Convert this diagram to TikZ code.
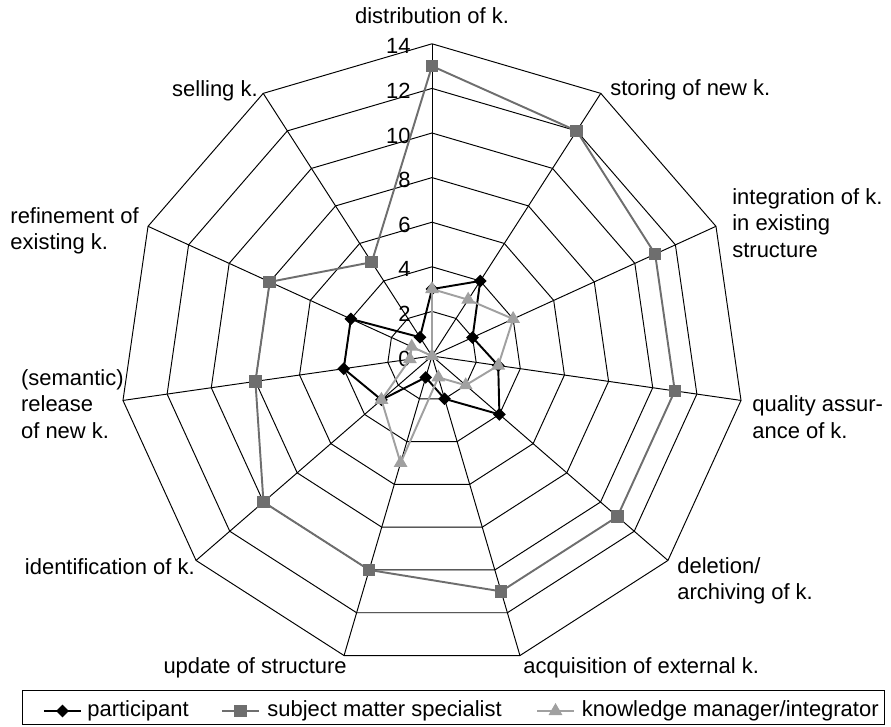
\documentclass[tikz,border=0pt]{standalone}
\usepackage{fontspec}
\setmainfont{Liberation Sans}
\usetikzlibrary{shapes.geometric, positioning}

\definecolor{smsgray}{RGB}{110,110,110}
\definecolor{kmgray}{RGB}{160,160,160}

\tikzset{
  webline/.style={black, line width=0.55pt},
  ptline/.style={black, line width=1.1pt},
  smsline/.style={smsgray, line width=1.1pt},
  kmline/.style={kmgray, line width=1.1pt},
  ptmark/.style={diamond, fill=black, inner sep=0pt, minimum width=0.26cm, minimum height=0.26cm},
  smsmark/.style={rectangle, fill=smsgray, inner sep=0pt, minimum size=0.25cm},
  kmmark/.style={regular polygon, regular polygon sides=3, fill=kmgray, inner sep=0pt, minimum size=0.32cm},
  axlabel/.style={inner sep=0pt, align=left, font=\fontsize{12.5}{15.1}\selectfont},
  legtext/.style={inner sep=0pt, font=\fontsize{12.5}{15}\selectfont}
}

\begin{document}
\begin{tikzpicture}[x=0.02cm, y=0.02cm]
    \useasboundingbox (-432,-370) rectangle (459,356);
    \coordinate (c) at (0,0);
    % web of rings and spokes
    \foreach \k in {0,...,10}
        \coordinate (ax\k) at ({90-\k*360/11}:312.2);
    \foreach \r in {2,4,...,14}
        \draw[webline] (90:{\r*22.3}) \foreach \k in {1,...,10} { -- ({90-\k*360/11}:{\r*22.3}) } -- cycle;
    \foreach \k in {0,...,10}
        \draw[webline] (c) -- (ax\k);
    % scale values
    \foreach \v in {0,2,...,14}
        \node[axlabel, anchor=east] (val\v) at (-21,{\v*22.3-2.5}) {\v};

    % axis labels
    \node[axlabel] (lab0) at (0,340) {distribution of k.};
    \node[axlabel, anchor=west] (lab1) at (178,266) {storing of new k.};
    \node[axlabel, anchor=west] (lab2) at (300,133) {integration of k.\\in existing\\structure};
    \node[axlabel, anchor=west] (lab3) at (320,-61) {quality assur-\\ance of k.};
    \node[axlabel, anchor=west] (lab4) at (245,-225) {deletion/\\archiving of k.};
    \node[axlabel, anchor=west] (lab5) at (91,-312) {acquisition of external k.};
    \node[axlabel, anchor=east] (lab6) at (-85,-312) {update of structure};
    \node[axlabel, anchor=east] (lab7) at (-237,-211) {identification of k.};
    \node[axlabel, anchor=east] (lab8) at (-308,-48) {(semantic)\\release\\of new k.};
    \node[axlabel, anchor=east] (lab9) at (-293,125) {refinement of\\existing k.};
    \node[axlabel, anchor=east] (lab10) at (-174,265) {selling k.};

    % participant
    \foreach \v [count=\k from 0] in {3,4,2,3,4,2,1,3,4,4,1}
        \coordinate (pt\k) at ({90-\k*360/11}:{\v*22.3});
    \draw[ptline] (pt0) \foreach \k in {1,...,10} { -- (pt\k) } -- cycle;
    \foreach \k in {0,...,10}
        \node[ptmark] (ptm\k) at (pt\k) {};

    % subject matter specialist
    \foreach \v [count=\k from 0] in {13,12,11,11,11,11,10,10,8,8,5}
        \coordinate (sm\k) at ({90-\k*360/11}:{\v*22.3});
    \draw[smsline] (sm0) \foreach \k in {1,...,10} { -- (sm\k) } -- cycle;
    \foreach \k in {0,...,10}
        \node[smsmark] (smm\k) at (sm\k) {};

    % knowledge manager/integrator
    \foreach \v [count=\k from 0] in {3,3,4,3,2,1,5,3,1,1,0}
        \coordinate (km\k) at ({90-\k*360/11}:{\v*22.3});
    \draw[kmline] (km0) \foreach \k in {1,...,10} { -- (km\k) } -- cycle;
    \foreach \k in {0,...,10}
        \node[kmmark] (kmm\k) at (km\k) {};

    % legend
    \draw[webline] (-409.3,-334) rectangle (452,-368);
    \coordinate (lgpa) at (-388,-355);
    \coordinate (lgpb) at (-351,-355);
    \draw[ptline] (lgpa) -- (lgpb);
    \node[ptmark] (lgpm) at (-369.5,-355) {};
    \node[legtext, anchor=west] (lgpt) at (-345,-355) {participant};
    \coordinate (lgsa) at (-210,-355);
    \coordinate (lgsb) at (-173,-355);
    \draw[smsline] (lgsa) -- (lgsb);
    \node[smsmark] (lgsm) at (-191.5,-355) {};
    \node[legtext, anchor=west] (lgst) at (-165,-355) {subject matter specialist};
    \coordinate (lgka) at (105,-355);
    \coordinate (lgkb) at (142,-355);
    \draw[kmline] (lgka) -- (lgkb);
    \node[kmmark] (lgkm) at (123.5,-355) {};
    \node[legtext, anchor=east] (lgkt) at (447,-355) {knowledge manager/integrator};
\end{tikzpicture}
\end{document}
